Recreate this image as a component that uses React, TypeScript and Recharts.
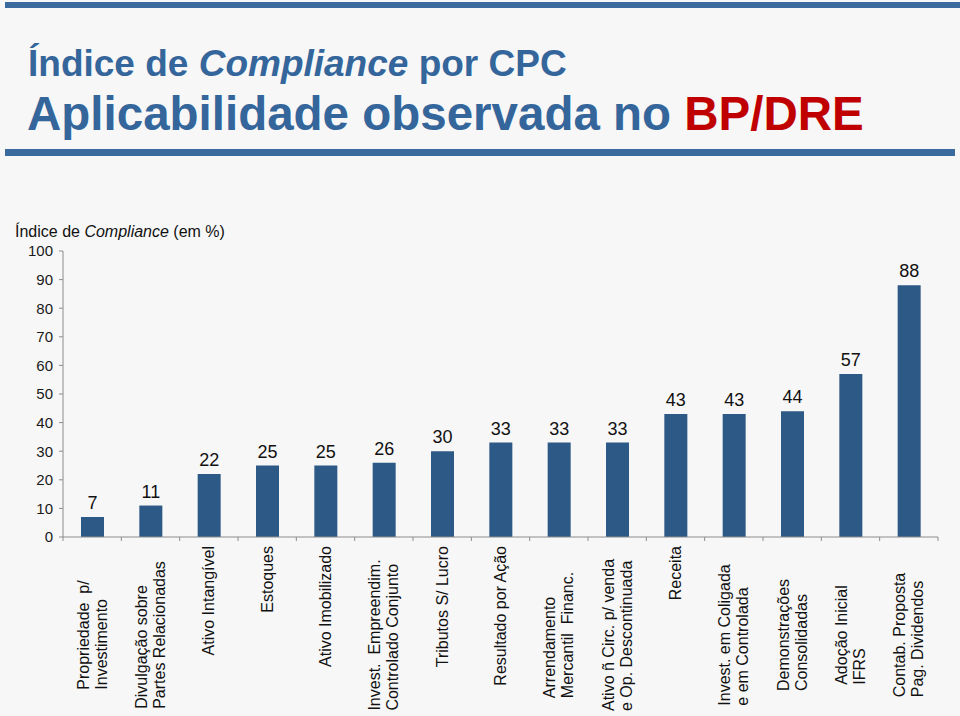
import React from 'react';
import { BarChart, Bar, XAxis, YAxis, LabelList } from 'recharts';

const categories = [
  'Propriedade  p/\nInvestimento',
  'Divulgação sobre\nPartes Relacionadas',
  'Ativo Intangível',
  'Estoques',
  'Ativo Imobilizado',
  'Invest.  Empreendim.\nControlado Conjunto',
  'Tributos S/ Lucro',
  'Resultado por Ação',
  'Arrendamento\nMercantil  Financ.',
  'Ativo ñ Circ. p/ venda\ne Op. Descontinuada',
  'Receita',
  'Invest. em Coligada\ne em Controlada',
  'Demonstrações\nConsolidadas',
  'Adoção Inicial\nIFRS',
  'Contab. Proposta\nPag. Dividendos',
];

const compliance = [7, 11, 22, 25, 25, 26, 30, 33, 33, 33, 43, 43, 44, 57, 88];

const yTicks = [0, 10, 20, 30, 40, 50, 60, 70, 80, 90, 100];

const data = categories.map((name, i) => ({ name, value: compliance[i] }));

const FONT = '"Liberation Sans", Arial, Helvetica, sans-serif';
const BLUE = '#34669b';
const BAR = '#2c5986';
const AXIS = '#8c8c8c';

let measureCtx: CanvasRenderingContext2D | null = null;
const textWidth = (s: string) => {
  if (!measureCtx) measureCtx = document.createElement('canvas').getContext('2d');
  if (!measureCtx) return s.length * 8;
  measureCtx.font = `16px ${FONT}`;
  return measureCtx.measureText(s).width;
};

const CategoryTick = (props: any) => {
  const { x, y, payload, index, visibleTicksCount } = props;
  const half = payload && payload.offset ? payload.offset : 29;
  const lines = String(payload.value).split('\n');
  const n = lines.length;
  const isLast = index === (visibleTicksCount ?? categories.length) - 1;

  let anchor: 'start' | 'end' = 'end';
  let along = -9; // single lines hang from just under the axis
  if (n > 1) {
    const w = Math.max(...lines.map(textWidth));
    anchor = 'start';
    along = -(98 + w / 2);
  }

  return (
    <g>
      <line x1={x - half} y1={y} x2={x - half} y2={y + 4} stroke={AXIS} />
      {isLast && <line x1={x + half} y1={y} x2={x + half} y2={y + 4} stroke={AXIS} />}
      <g transform={`translate(${x},${y}) rotate(-90)`}>
        <text textAnchor={anchor} fontSize={16} fontFamily={FONT} fill="#111">
          {lines.map((l, i) => (
            <tspan key={i} x={along} y={(i - (n - 1) / 2) * 18 + 5.6} style={{ whiteSpace: 'pre' }}>
              {l}
            </tspan>
          ))}
        </text>
      </g>
    </g>
  );
};

export default function App() {
  return (
    <div
      style={{
        position: 'absolute',
        left: 0,
        top: 0,
        width: 960,
        height: 716,
        background: '#f7f7f7',
        overflow: 'hidden',
      }}
    >
      <svg width={960} height={716} style={{ position: 'absolute', left: 0, top: 0 }}>
        <rect x={5} y={2} width={955} height={6} fill="#3a6a9e" />
        <rect x={5} y={149} width={950} height={7} fill="#3a6a9e" />
        <text x={28} y={76} fontFamily={FONT} fontWeight="bold" fontSize={37} fill={BLUE}>
          Índice de <tspan fontStyle="italic">Compliance</tspan> por CPC
        </text>
        <text x={27} y={130} fontFamily={FONT} fontWeight="bold" fontSize={47.5} fill={BLUE}>
          Aplicabilidade observada no <tspan fill="#c00000">BP/DRE</tspan>
        </text>
        <text x={15} y={237} fontFamily={FONT} fontSize={16} fill="#111">
          Índice de <tspan fontStyle="italic">Compliance</tspan> (em %)
        </text>
      </svg>
      <div style={{ position: 'absolute', left: 0, top: 0 }}>
        <BarChart
          width={960}
          height={716}
          data={data}
          margin={{ top: 251, right: 22, bottom: 0, left: 0 }}
        >
          <XAxis
            dataKey="name"
            interval={0}
            height={179}
            tickLine={false}
            tickSize={0}
            tickMargin={0}
            axisLine={{ stroke: AXIS }}
            tick={<CategoryTick />}
          />
          <YAxis
            domain={[0, 100]}
            ticks={yTicks}
            width={63}
            tickSize={4}
            tickMargin={6}
            axisLine={{ stroke: AXIS }}
            tickLine={{ stroke: AXIS }}
            tick={{ fontSize: 15, fontFamily: FONT, fill: '#1a1a1a' }}
          />
          <Bar dataKey="value" fill={BAR} barSize={23} isAnimationActive={false}>
            <LabelList
              dataKey="value"
              position="top"
              offset={8}
              fontSize={18}
              fontFamily={FONT}
              fill="#111"
            />
          </Bar>
        </BarChart>
      </div>
    </div>
  );
}
